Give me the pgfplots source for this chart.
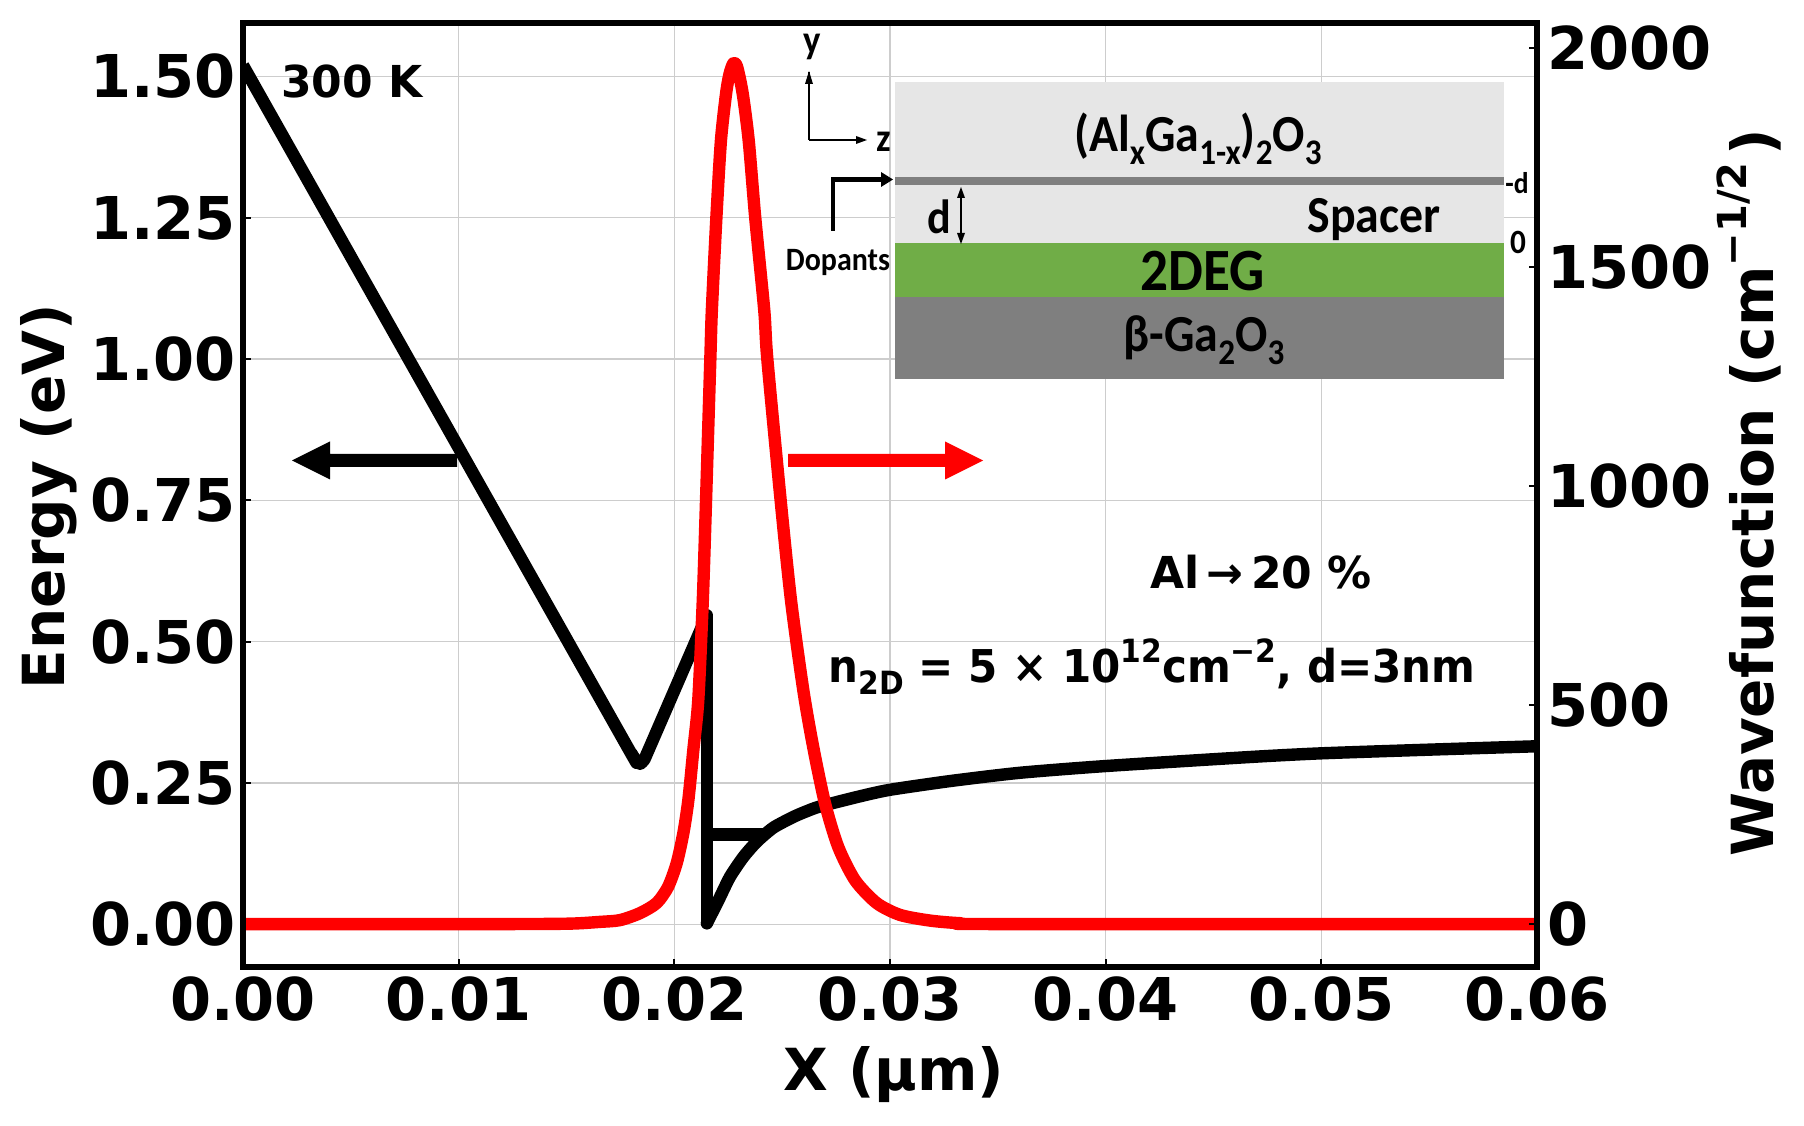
\documentclass[border=0pt]{standalone}
\usepackage{fontspec}
\usepackage{pgfplots}
\pgfplotsset{compat=1.18}
\setmainfont{DejaVu Sans}
\newfontfamily\carlito[FakeStretch=0.92]{Carlito}
\newfontfamily\dejasqueezed[FakeStretch=0.93]{DejaVu Sans}
\newcommand\low[2]{\raisebox{-0.25em}{\fontsize{#1}{#1}\selectfont #2}}
\newcommand\high[2]{\raisebox{0.45em}{\fontsize{#1}{#1}\selectfont #2}}
\definecolor{gridgray}{RGB}{205,205,205}
\definecolor{layerlight}{RGB}{230,230,230}
\definecolor{layerdark}{RGB}{127,127,127}
\definecolor{layergreen}{RGB}{112,173,71}
\pgfplotsset{common/.style={
  scale only axis, width=647pt, height=472pt,
  at={(0,0)}, anchor=south west,
  xmin=0, xmax=0.06,
  scaled x ticks=false, scaled y ticks=false,
  tick align=inside,
  major tick length=4pt,
  tick style={black,line width=1pt},
  axis line style={black,line width=2.6pt},
  tick label style={font=\fontsize{29.5pt}{31pt}\selectfont\bfseries},
  label style={font=\fontsize{29pt}{31pt}\selectfont\bfseries},
  /pgf/number format/assume math mode=true,
  /pgf/number format/1000 sep={},
}}

\begin{document}
\begin{tikzpicture}
\useasboundingbox (-121.5pt,483.5pt) rectangle (780.5pt,-79pt);
% left axis, band edge
\begin{axis}[common,
  ymin=-0.0755, ymax=1.5945,
  xtick={0,0.01,0.02,0.03,0.04,0.05,0.06},
  ytick={0,0.25,0.5,0.75,1,1.25,1.5},
  xtick pos=bottom, ytick pos=left,
  xticklabel style={yshift=-1.5pt,/pgf/number format/fixed,/pgf/number format/fixed zerofill,/pgf/number format/precision=2},
  yticklabel style={/pgf/number format/fixed,/pgf/number format/fixed zerofill,/pgf/number format/precision=2},
  grid=major,
  grid style={gridgray,line width=0.7pt},
  xlabel={X (µm)},
  ylabel={Energy (eV)},
  xlabel style={at={(axis description cs:0.5030,-0.1140)},anchor=center},
  ylabel style={at={(axis description cs:-0.1504,0.4985)},anchor=center},
]
\addplot[black,line width=6.2pt,line join=round,smooth,tension=0.25] coordinates {
  (0,1.5195)(0.01757,0.331)(0.0180,0.303)(0.0182,0.291)(0.01841,0.284)
  (0.0186,0.291)(0.0188,0.308)(0.02151,0.5466)};
\addplot[black,line width=6.2pt,line cap=round] coordinates {(0.02151,0.5466)(0.02151,0.002)};
\addplot[black,line width=6.2pt,line cap=round,smooth,tension=0.4] coordinates {
  (0.02151,0.002)(0.02204,0.042)(0.02258,0.084)(0.02320,0.119)(0.02382,0.146)
  (0.02459,0.171)(0.02552,0.190)(0.0261,0.1995)(0.02675,0.2085)(0.02861,0.2265)
  (0.03,0.238)(0.0328,0.2535)(0.036,0.268)(0.04,0.280)(0.0467,0.296)
  (0.05,0.3025)(0.055,0.309)(0.06,0.315)};
\addplot[black,line width=6.2pt] coordinates {(0.02151,0.159)(0.0243,0.159)};
\end{axis}
% right axis, wavefunction
\begin{axis}[common,
  axis on top,
  ymin=-98, ymax=2057,
  xtick=\empty,
  ytick={0,500,1000,1500,2000},
  ytick pos=right,
  yticklabel style={xshift=1.5pt},
  ylabel={Wavefunction (cm\high{20pt}{−1/2\,})},
  ylabel style={at={(axis description cs:1.1638,0.502)},anchor=center,rotate=0},
]
\addplot[red,line width=6.2pt,line join=round,smooth,tension=0.45] coordinates {
  (0,0)(0.012,0)(0.01516,1)(0.01655,5)(0.01748,9)(0.01841,25)(0.01918,48)
  (0.01971,85)(0.02011,139)(0.02042,208)(0.02065,283)(0.02088,397)(0.02111,511)
  (0.02132,739)(0.02147,967)(0.02167,1291)(0.02174,1401)(0.02195,1613)
  (0.02216,1788)(0.02240,1896)(0.02256,1941)(0.02274,1965)(0.02291,1957)
  (0.02317,1896)(0.02345,1788)(0.02375,1613)(0.02417,1401)(0.02431,1291)
  (0.02493,967)(0.02541,739)(0.02598,534)(0.02644,404)(0.02699,275)
  (0.02760,176)(0.02838,100)(0.02938,48)(0.03046,21)(0.03185,8)(0.03325,2)
  (0.0351,0)(0.06,0)};
\end{axis}
% annotations and layer sketch, coordinates in reference pixels
\begin{scope}[x=0.5pt,y=-0.5pt,shift={(-121.5pt,483.5pt)}]
\node[font=\fontsize{22pt}{24pt}\selectfont\bfseries] at (352,81) {300 K};
\node[font=\fontsize{22pt}{24pt}\selectfont\bfseries] at (1261,572) {Al\,→\,20 \%};
\node[font=\dejasqueezed\bfseries\fontsize{22.6pt}{24pt}\selectfont,anchor=base] at (1152,683)
  {n\low{16pt}{2D} = 5 × 10\high{16pt}{12}cm\high{16pt}{−2}, d=3nm};
\fill[black] (457,454) -- (330,454) -- (330,441.5) -- (292,460.5) -- (330,479.5) -- (330,467) -- (457,467) -- cycle;
\fill[red] (788,454) -- (945,454) -- (945,441.5) -- (983,460.5) -- (945,479.5) -- (945,467) -- (788,467) -- cycle;
% layers
\fill[layerlight] (895,82) rectangle (1504,243);
\fill[layerdark] (895,177) rectangle (1504,185);
\fill[layergreen] (895,243) rectangle (1504,297);
\fill[layerdark] (895,297) rectangle (1504,379);
\node[font=\carlito\bfseries\fontsize{26pt}{28pt}\selectfont] at (1198,139)
  {(Al\low{18pt}{x}Ga\low{18pt}{1-x})\low{18pt}{2}O\low{18pt}{3}};
\node[font=\carlito\bfseries\fontsize{26pt}{28pt}\selectfont] at (1374,220) {Spacer};
\node[font=\carlito\bfseries\fontsize{30pt}{32pt}\selectfont] at (1203,271) {2DEG};
\node[font=\carlito\bfseries\fontsize{26pt}{28pt}\selectfont] at (1204,340)
  {β-Ga\low{18pt}{2}O\low{18pt}{3}};
\node[font=\carlito\bfseries\fontsize{24pt}{26pt}\selectfont] at (939,217) {d};
\node[font=\carlito\bfseries\fontsize{16.3pt}{18pt}\selectfont] at (838,262) {Dopants};
\node[font=\carlito\bfseries\fontsize{15pt}{17pt}\selectfont] at (1517,183) {-d};
\node[font=\carlito\bfseries\fontsize{17pt}{19pt}\selectfont] at (1518,242) {0};
\node[font=\carlito\bfseries\fontsize{20pt}{22pt}\selectfont] at (812,47) {y};
\node[font=\carlito\bfseries\fontsize{20pt}{22pt}\selectfont] at (884,142) {z};
\draw[line width=1pt] (809,140) -- (809,72);
\fill (809,71) -- (805,84) -- (813,84) -- cycle;
\draw[line width=1pt] (809,140) -- (860,140);
\fill (867,140) -- (856,136) -- (856,144) -- cycle;
\draw[line width=2.4pt] (833,231) -- (833,179.5) -- (885,179.5);
\fill (893,179.5) -- (881,172) -- (881,187) -- cycle;
\draw[line width=0.6pt] (961,192) -- (961,240);
\fill (961,187) -- (957,198) -- (965,198) -- cycle;
\fill (961,244) -- (957,233) -- (965,233) -- cycle;
\end{scope}
\end{tikzpicture}
\end{document}
